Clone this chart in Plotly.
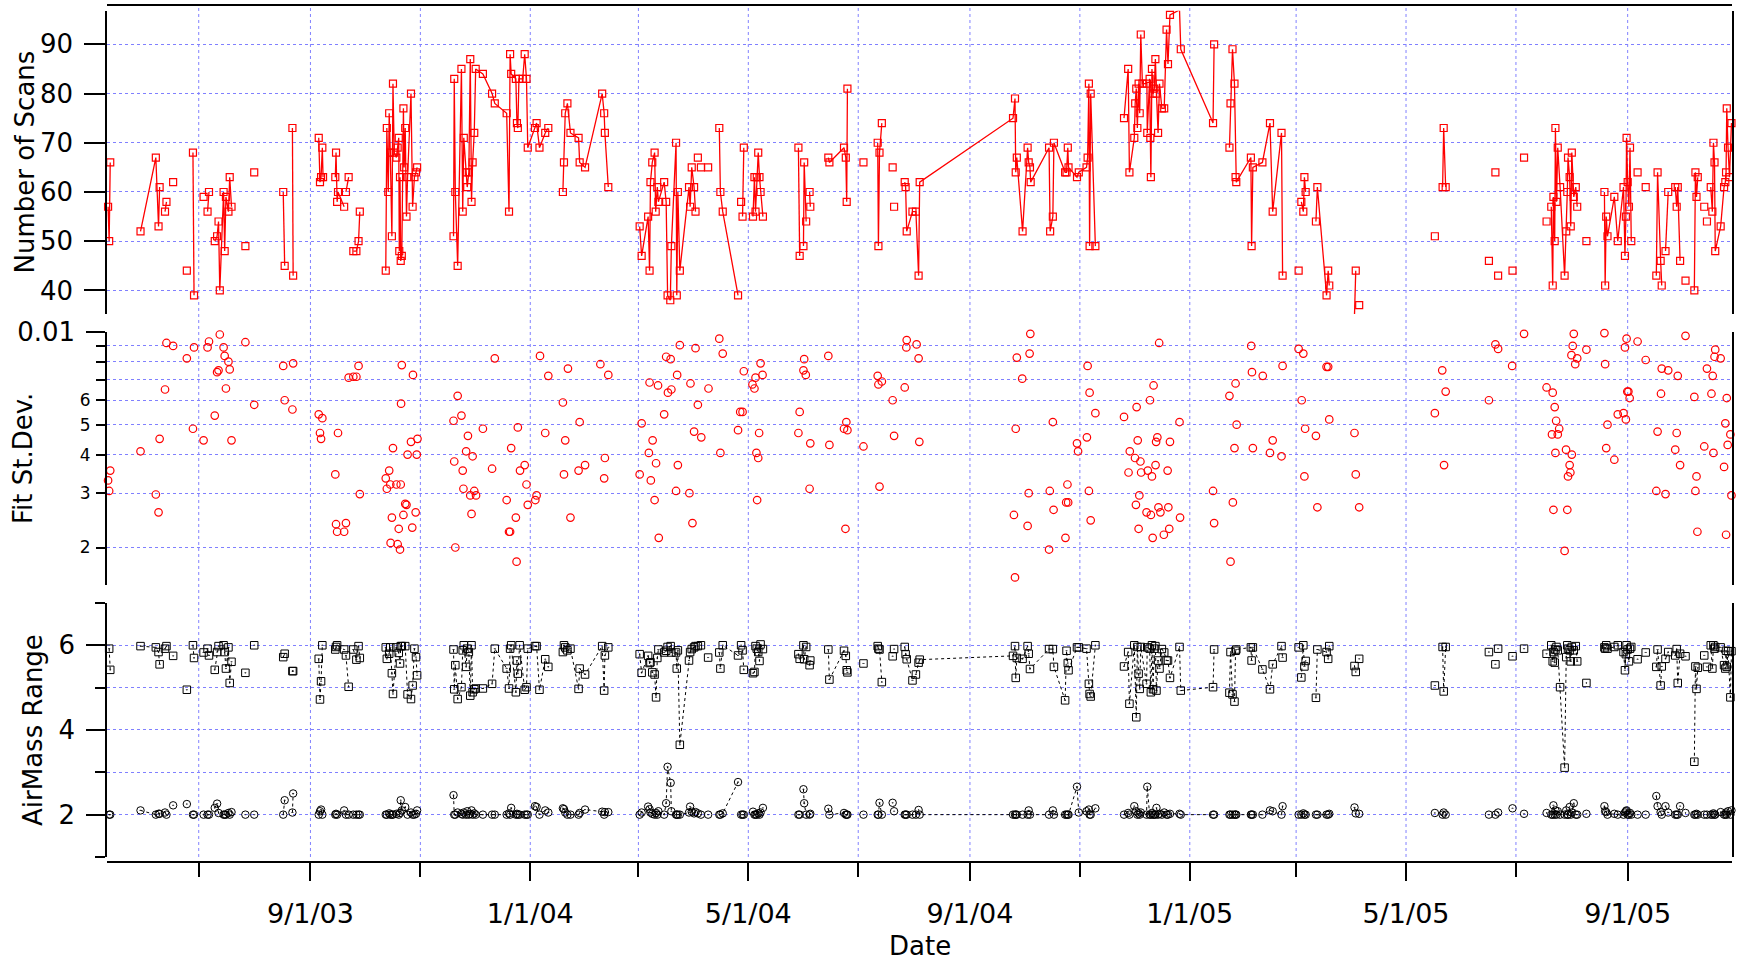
import pandas as pd
import plotly.graph_objects as go

BASE_DATE = pd.Timestamp("2003-09-01")
N = None  # gap marker (breaks connecting lines)

# ---------------- Number of Scans (days since 2003-09-01) ----------------
scan_day = [
    -112.3, -111.7, -111.1, N,
    -94.3, -85.8, -84.3, -83.7, N,
    -80.7, -79.9, N,
    -76.2, N,
    -68.6, N,
    -65.2, -64.6, N,
    -59.3, N,
    -57.1, -56.3, N,
    -53.1, -51.8, -51.0, -50.3, -48.2, -47.6, -46.9, -45.5, -44.8, -43.8, N,
    -36.1, N,
    -31.2, N,
    -15.1, -14.3, N,
    -10.0, -9.6, N,
    4.6, 5.3, 5.9, 6.6, 7.0, N,
    13.8, 14.2, 14.8, 15.3, 18.7, N,
    19.7, 21.2, N,
    23.8, 25.5, 26.7, 27.4, N,
    41.8, 42.4, 43.2, 43.7, 44.3, 45.2, 45.8, 46.5, 47.7, 48.4, 49.0, 49.3, 49.7, 50.1, 50.7, 51.6, 52.0, 52.6, 53.3, 53.9, 55.8, 56.7, 57.7, 58.6, 59.2, N,
    79.4, 79.8, 80.4, 81.7, 83.8, 84.5, 85.1, 86.4, 87.0, 87.9, 88.7, 89.4, 90.0, 90.9, 91.7, 95.7, 100.8, 102.3, 108.9, 110.2, 110.8, 111.4, 114.0, 114.6, 115.1, 115.7, 117.8, 118.9, 119.9, 120.6, 124.6, 125.5, 127.1, 130.3, 132.0, N,
    140.1, 140.7, 141.4, 142.6, 144.3, 148.8, 149.4, 152.4, 161.9, 163.0, 163.4, 165.3, N,
    182.7, 183.8, 187.4, 188.2, 188.7, 189.7, 191.0, 191.6, 192.5, 193.1, 196.3, 197.4, 198.2, 199.7, 200.3, 202.9, 203.3, 203.9, 205.0, 210.1, 210.7, 211.6, 212.9, 213.7, N,
    215.0, N, 216.7, N, 220.7, N,
    226.9, 227.5, 228.8, 237.3, N,
    239.0, N,
    239.8, 240.5, N,
    245.6, 246.4, 247.0, 247.7, 248.5, 249.2, 249.8, 251.1, N,
    270.8, 271.5, N,
    273.6, 274.0, 275.1, N,
    277.0, 277.4, N,
    287.4, 288.0, 296.1, 297.1, 297.6, 298.0, N,
    306.9, N,
    314.8, 315.2, 315.8, 317.1, N,
    323.1, N, 323.9, N,
    329.8, 330.3, 330.9, 334.1, 336.0, 337.5, 338.1, 389.9, 391.0, 391.4, 392.0, 395.2, 398.0, 398.6, 399.3, 399.7, 409.9, 410.5, 412.0, 412.6, 418.8, 419.6, 420.3, 420.7, 425.4, 426.4, 430.7, 431.3, 432.0, 432.4, 433.0, 435.6, N,
    451.5, 453.8, 454.5, 457.2, 457.7, 458.3, 458.9, 459.6, 460.2, 460.8, 461.7, 464.2, 464.4, 465.7, 466.1, 466.4, 467.0, 467.6, 468.3, 468.9, 469.5, 470.4, 471.2, 472.5, 473.8, 475.1, 475.9, 477.0, 482.3, 483.0, 500.9, 501.5, N,
    510.0, 510.6, 511.7, 512.8, 513.4, 513.8, 521.9, 522.3, 523.0, 528.3, 532.5, 534.0, 538.9, 539.5, N,
    548.4, N,
    549.9, 551.0, 551.6, 552.3, N,
    558.0, 558.8, 563.9, 564.8, 565.4, N,
    579.4, 580.1, N,
    582.0, N,
    624.0, N,
    628.3, 628.9, 630.0, N,
    654.0, N, 657.6, N, 659.1, N, 667.1, N, 673.5, N, 686.0, N,
    688.6, 689.4, 689.8, 690.5, 690.9, 691.5, 692.2, 693.5, 696.0, 696.9, 697.5, 697.9, 698.8, 699.4, 700.0, 701.1, 702.2, 703.0, N,
    708.1, N,
    718.1, 718.5, 719.1, 719.8, 723.6, 725.5, 728.7, 729.5, 730.0, 730.4, 731.0, 731.7, 732.3, 733.0, N,
    736.5, N, 741.0, N,
    746.9, 747.6, 749.3, 749.9, N,
    752.0, 753.5, N,
    757.4, 758.2, 758.8, 760.1, N,
    763.1, N,
    768.0, 768.6, 769.2, 769.9, N,
    773.5, N, 775.0, N,
    777.1, 778.0, 778.6, 779.2, 779.6, 782.6, 784.5, 785.2, 785.6, 786.0, 786.7, 787.5, 788.6,
]
scan_count = [
    57, 50, 66, N,
    52, 67, 53, 61, N,
    56, 58, N,
    62, N,
    44, N,
    68, 39, N,
    59, N,
    56, 60, N,
    50, 51, 54, 40, 60, 48, 59, 56, 63, 57, N,
    49, N,
    64, N,
    60, 45, N,
    73, 43, N,
    71, 62, 63, 69, 63, N,
    63, 68, 58, 60, 57, N,
    60, 63, N,
    48, 48, 50, 56, N,
    44, 73, 60, 76, 68, 51, 82, 68, 67, 69, 71, 48, 63, 46, 47, 77, 65, 73, 55, 63, 80, 57, 63, 64, 65, N,
    51, 83, 60, 45, 85, 56, 71, 64, 61, 64, 87, 58, 66, 72, 85, 84, 80, 78, 76, 56, 88, 84, 83, 74, 73, 83, 83, 88, 83, 69, 73, 74, 69, 72, 73, N,
    60, 66, 76, 78, 72, 71, 66, 65, 80, 76, 72, 61, N,
    53, 47, 55, 44, 62, 66, 68, 56, 61, 58, 62, 58, 39, 38, 49, 70, 39, 60, 44, 61, 57, 65, 61, 56, N,
    67, N, 65, N, 65, N,
    73, 60, 56, 39, N,
    58, N,
    55, 69, N,
    55, 63, 56, 63, 68, 63, 60, 55, N,
    69, 47, N,
    49, 66, 54, N,
    60, 57, N,
    67, 66, 69, 67, 58, 81, N,
    66, N,
    70, 49, 68, 74, N,
    65, N, 57, N,
    62, 61, 52, 56, 56, 43, 62, 75, 79, 64, 67, 52, 69, 66, 65, 62, 69, 52, 55, 70, 64, 64, 69, 65, 63, 64, 65, 67, 82, 49, 80, 49, N,
    75, 85, 64, 71, 78, 81, 73, 82, 76, 92, 82, 82, 72, 83, 71, 63, 85, 80, 81, 87, 80, 72, 82, 77, 77, 93, 86, 96, 97, 89, 74, 90, N,
    69, 78, 89, 82, 63, 62, 67, 49, 65, 66, 74, 56, 72, 43, N,
    44, N,
    58, 56, 63, 60, N,
    54, 61, 39, 44, 41, N,
    35, 44, N,
    37, N,
    51, N,
    61, 73, 61, N,
    46, N, 64, N, 43, N, 44, N, 67, N, 54, N,
    57, 41, 59, 50, 73, 58, 69, 61, 43, 52, 60, 67, 63, 53, 68, 59, 61, 57, N,
    50, N,
    60, 41, 55, 51, 59, 50, 61, 47, 55, 71, 62, 57, 69, 50, N,
    64, N, 61, N,
    43, 64, 46, 41, N,
    48, 60, N,
    61, 57, 61, 46, N,
    42, N,
    40, 64, 59, 63, N,
    57, N, 54, N,
    61, 56, 70, 66, 48, 53, 61, 62, 64, 77, 69, 63, 74,
]

# ---------------- Fit St.Dev. (units of 1e-3) ----------------
fit_day = [
    -112.3, -111.7, -111.1, -94.3, -85.8, -84.3, -83.7, -80.7, -79.9, -76.2, -68.6, -65.2, -64.6, -59.3, -57.1, -56.3,
    -53.1, -51.8, -51.0, -50.3, -48.2, -47.6, -46.9, -45.5, -44.8, -43.8, -36.1, -31.2, -15.1, -14.3, -10.0, -9.6,
    4.6, 5.3, 5.9, 6.6, 13.8, 14.2, 14.8, 15.3, 18.7, 19.7, 21.2, 23.8, 25.5, 26.7, 27.4,
    41.8, 42.4, 43.7, 44.3, 44.5, 45.2, 45.8, 47.7, 48.4, 49.0, 49.7, 50.1, 50.3, 50.7, 51.6, 52.6, 53.3, 53.9, 55.8, 56.5, 56.9, 58.4, 59.0, 59.4,
    79.4, 79.8, 80.4, 81.7, 83.8, 84.5, 84.9, 86.4, 87.4, 88.7, 89.4, 90.0, 90.9, 91.9, 95.7, 100.8, 102.3, 108.9, 110.2, 110.8, 111.4,
    114.0, 114.4, 115.1, 116.3, 118.9, 119.9, 120.6, 124.8, 125.5, 127.4, 130.3, 132.0,
    140.1, 140.7, 141.4, 142.9, 144.3, 148.8, 149.4, 152.4, 160.9, 163.0, 163.4, 165.3,
    182.7, 183.8, 187.8, 188.2, 188.9, 189.9, 191.0, 191.8, 192.9, 193.3, 196.3, 197.4, 198.4, 199.9, 200.3, 202.9, 203.5, 203.9, 205.0,
    210.3, 210.9, 212.0, 212.9, 213.7, 215.0, 216.9, 220.9, 226.9, 227.5, 228.8, 237.3, 238.5, 239.8, 240.5,
    245.3, 246.4, 247.0, 247.5, 247.9, 248.5, 249.0, 249.8, 250.9, 270.8, 271.5, 273.6, 274.0, 274.9, 277.0, 277.4,
    287.4, 288.0, 296.1, 296.9, 297.4, 298.0, 306.9, 314.8, 315.2, 315.8, 317.1, 323.1, 323.9, 329.8, 330.7, 330.9, 336.4, 337.5, 337.9,
    390.4, 391.0, 391.4, 392.0, 395.0, 398.0, 398.6, 399.1, 399.5, 409.9, 410.3, 412.0, 412.4, 419.0, 419.4, 420.1, 420.5,
    425.4, 426.0, 430.9, 431.3, 432.0, 432.4, 433.0, 435.6,
    451.5, 454.0, 454.7, 457.6, 458.1, 458.5, 459.1, 459.6, 460.0, 460.6, 461.0, 464.0, 464.7, 465.9, 466.4, 467.0, 467.4, 467.9,
    469.0, 469.3, 470.0, 470.6, 471.0, 471.7, 473.6, 475.7, 476.1, 476.6, 477.0, 482.3, 482.6,
    500.9, 501.5, 510.0, 510.6, 511.9, 512.8, 513.4, 514.0, 522.1, 522.5, 523.0, 528.5, 532.5, 534.0, 538.9, 539.5,
    548.4, 550.1, 551.0, 551.6, 552.0, 558.0, 558.8, 563.9, 564.8, 565.4, 579.4, 580.1, 582.0,
    624.0, 628.1, 629.1, 630.0, 654.0, 657.6, 659.1, 666.9, 673.5,
    686.0, 689.0, 689.4, 689.8, 690.5, 690.9, 691.3, 692.2, 693.0, 696.0, 696.8, 697.5, 697.9, 698.8, 699.2, 699.8, 700.0, 700.5, 701.1, 701.9, 703.0, 708.1,
    718.1, 718.5, 719.1, 719.8, 723.6, 725.5, 728.7, 729.5, 730.0, 730.4, 730.8, 731.4, 732.1, 733.0, 736.5, 741.0,
    746.9, 747.6, 749.5, 749.9, 752.0, 753.5, 757.4, 758.2, 758.8, 760.1, 763.1, 768.0, 768.6, 769.2, 769.7, 773.5, 775.0,
    777.5, 778.2, 778.6, 779.2, 779.6, 782.6, 784.5, 785.2, 785.6, 786.0, 786.5, 788.0, 788.6,
]
fit_std_e3 = [
    3.3, 3.05, 3.55, 4.1, 2.97, 2.6, 4.5, 6.5, 9.2, 9.0, 8.2, 4.85, 8.9, 4.45, 8.9, 9.3,
    5.35, 7.4, 7.5, 9.8, 8.9, 8.35, 6.55, 8.0, 7.55, 4.45, 9.25, 5.8, 7.75, 6.0, 5.6, 7.9,
    5.4, 4.7, 4.5, 5.25, 3.45, 2.38, 2.25, 4.7, 2.25, 2.4, 7.1, 7.15, 7.15, 7.75, 2.98,
    3.35, 3.1, 3.55, 3.2, 2.07, 2.5, 4.2, 3.2, 2.05, 2.3, 1.97, 3.2, 5.85, 7.8, 2.55, 2.77, 2.75, 4.0, 4.4, 2.32, 7.25, 2.6, 4.0, 4.5,
    5.15, 3.8, 2.0, 6.2, 5.35, 3.55, 3.1, 4.1, 4.6, 2.95, 2.57, 3.95, 3.05, 2.95, 4.85, 3.6, 8.2, 2.85, 2.25, 2.25, 4.2,
    2.5, 1.8, 4.9, 3.55, 3.7, 3.2, 2.75, 2.85, 2.95, 8.35, 4.7, 7.2,
    5.9, 3.45, 4.45, 7.6, 2.5, 3.55, 5.1, 3.7, 7.85, 3.35, 3.9, 7.25,
    3.45, 5.05, 4.05, 6.85, 3.3, 4.45, 2.85, 3.75, 6.7, 2.15, 5.4, 8.3, 6.35, 8.15, 6.5, 3.05, 7.25, 3.7, 9.05,
    3.0, 6.8, 2.4, 4.75, 8.85, 5.8, 4.55, 6.55, 9.5, 4.05, 8.5, 4.8, 5.5, 5.5, 7.45,
    6.75, 6.55, 7.1, 4.05, 2.85, 3.9, 4.7, 7.9, 7.25, 4.7, 5.5, 7.5, 8.15, 7.25, 3.1, 4.35,
    8.35, 4.3, 4.85, 2.3, 5.1, 4.8, 4.25, 7.2, 6.75, 3.15, 6.9, 6.0, 4.6, 6.6, 8.9, 9.4, 9.1, 8.2, 4.4,
    2.55, 1.6, 4.85, 8.25, 7.05, 2.35, 3.0, 8.5, 9.85, 1.97, 3.05, 5.1, 2.65, 2.15, 2.8, 3.2, 2.8,
    4.35, 4.1, 4.55, 7.75, 3.05, 6.35, 2.45, 5.45,
    5.3, 3.5, 4.1, 3.9, 2.75, 5.7, 4.45, 2.3, 2.95, 3.8, 3.5, 2.6, 3.55, 6.0, 2.55, 3.4, 2.15, 6.7,
    3.7, 4.4, 4.55, 2.7, 9.2, 2.6, 2.2, 3.55, 2.7, 2.3, 4.4, 5.1, 2.5,
    3.05, 2.4, 6.2, 1.8, 2.8, 4.2, 6.8, 5.0, 9.0, 7.4, 4.2, 7.2, 4.05, 4.45, 3.95, 7.75,
    8.8, 6.0, 8.5, 3.4, 4.85, 4.6, 2.7, 7.7, 7.7, 5.2, 4.7, 3.45, 2.7,
    5.45, 7.5, 3.7, 6.4, 6.0, 9.1, 8.8, 7.75, 9.85,
    6.6, 4.65, 6.35, 2.65, 5.7, 4.05, 5.15, 4.65, 4.85, 1.95, 4.15, 2.65, 3.4, 3.7, 3.5, 8.4, 4.0, 9.0, 9.85, 7.85, 8.2, 8.75,
    9.9, 7.85, 4.2, 5.0, 3.85, 5.4, 5.45, 8.9, 5.2, 9.5, 6.4, 6.4, 6.1, 10.0, 9.3, 8.1,
    3.05, 4.75, 6.3, 7.6, 2.98, 7.5, 4.15, 4.7, 7.2, 3.7, 9.7, 6.15, 3.05, 3.4, 2.25, 4.25, 7.6,
    6.3, 7.2, 4.05, 8.3, 8.75, 8.2, 3.65, 5.05, 2.2, 6.1, 4.3, 4.65, 2.95,
]

# ---------------- AirMass Range (max = squares, min = circles) ----------------
am_day = [
    -111.7, -111.1, N,
    -94.3, -85.8, -84.3, -83.7, N,
    -80.7, -79.9, N,
    -76.2, N,
    -68.6, N,
    -65.2, -64.6, N,
    -59.3, N,
    -57.1, -56.3, N,
    -53.1, -51.8, -51.0, -48.2, -47.6, -46.9, -45.5, -44.8, -43.8, N,
    -36.1, N,
    -31.2, N,
    -15.1, -14.3, N,
    -10.0, -9.6, N,
    4.6, 5.3, 5.9, 6.6, N,
    13.8, 14.2, 14.8, 18.7, N,
    19.7, 21.2, N,
    23.8, 25.5, 26.7, 27.4, N,
    41.8, 42.4, 43.7, 44.3, 45.2, 45.8, 47.7, 49.0, 49.7, 50.1, 50.7, 52.6, 53.9, 55.8, 56.7, 57.7, 58.6, 59.2, N,
    79.4, 79.8, 80.4, 81.7, 83.8, 84.5, 85.1, 86.4, 87.0, 87.9, 88.7, 89.4, 90.0, 90.9, 91.7, 95.7, 100.8, 102.3, 108.9, 110.2, 110.8, 111.4, 114.0, 114.6, 115.1, 116.1, 118.9, 119.9, 120.6, 124.6, 125.5, 127.1, 130.3, 132.0, N,
    140.1, 140.7, 141.4, 142.6, 144.3, 148.8, 149.4, 152.4, 161.9, 163.0, 163.4, 165.3, N,
    182.7, 183.8, 187.4, 188.2, 188.7, 189.7, 191.0, 191.8, 192.5, 193.1, 196.3, 197.4, 198.2, 199.9, 200.3, 202.9, 203.3, 203.9, 205.0, 210.1, 210.7, 211.6, 212.9, 213.7, N,
    215.0, N, 216.7, N, 220.7, N,
    226.9, 227.5, 228.8, 237.3, N,
    239.0, N,
    239.8, 240.5, N,
    245.6, 246.4, 247.0, 247.7, 248.5, 249.2, 249.8, 251.1, N,
    270.8, 271.5, N,
    273.6, 274.0, 275.1, N,
    277.0, 277.4, N,
    287.4, 288.0, 296.1, 297.1, 297.6, 298.0, N,
    306.9, N,
    314.8, 315.2, 315.8, 317.1, N,
    323.1, N, 323.9, N,
    329.8, 330.3, 330.9, 334.1, 336.0, 337.5, 338.1, 389.9, 391.0, 391.4, 392.0, 395.2, 398.0, 398.6, 399.3, 409.9, 412.0, 412.6, 418.8, 419.6, 420.3, 420.7, 425.4, 426.4, 430.7, 432.0, 432.4, 433.0, 435.6, N,
    451.5, 453.8, 454.5, 457.2, 458.3, 458.9, 459.6, 460.2, 460.8, 464.0, 464.4, 465.7, 466.4, 467.0, 467.6, 468.3, 468.9, 469.5, 470.4, 471.2, 472.5, 473.8, 475.1, 475.9, 477.0, 482.3, 483.0, 500.9, 501.5, N,
    510.0, 510.6, 511.7, 512.8, 513.4, 513.8, 521.9, 522.3, 523.0, 528.3, 532.5, 534.0, 538.9, 539.5, N,
    548.4, N,
    549.9, 551.0, 551.6, 552.3, N,
    558.0, 558.8, 563.9, 564.8, 565.4, N,
    579.4, 580.1, N,
    582.0, N,
    624.0, N,
    628.3, 628.9, 630.0, N,
    654.0, N, 657.6, N, 659.1, N, 667.1, N, 673.5, N, 686.0, N,
    688.6, 689.4, 689.8, 690.5, 690.9, 691.5, 692.2, 693.5, 696.0, 696.9, 697.5, 697.9, 698.8, 699.4, 700.0, 701.1, 702.2, 703.0, N,
    708.1, N,
    718.1, 718.5, 719.1, 719.8, 723.6, 725.5, 728.7, 729.5, 730.0, 730.4, 731.0, 731.7, 732.3, 733.0, N,
    736.5, N, 741.0, N,
    746.9, 747.6, 749.3, 749.9, N,
    752.0, 753.5, N,
    757.4, 758.2, 758.8, 760.1, N,
    763.1, N,
    768.0, 768.6, 769.2, 769.9, N,
    773.5, N, 775.0, N,
    777.1, 778.0, 778.6, 779.2, 779.6, 782.6, 784.5, 785.2, 785.6, 786.0, 786.7, 788.0, 788.6,
]
am_max = [
    5.92, 5.42, N,
    5.98, 5.95, 5.84, 5.55, N,
    5.92, 5.98, N,
    5.75, N,
    4.95, N,
    6.0, 5.7, N,
    5.83, N,
    5.92, 5.76, N,
    5.42, 5.84, 5.98, 6.0, 5.84, 5.45, 5.95, 5.11, 5.61, N,
    5.35, N,
    6.0, N,
    5.72, 5.8, N,
    5.39, 5.39, N,
    5.68, 4.72, 5.15, 6.0, N,
    5.9, 5.96, 6.0, 5.9, N,
    5.76, 5.02, N,
    5.9, 5.66, 5.98, 5.7, N,
    5.95, 5.68, 5.8, 5.95, 5.34, 4.85, 5.95, 5.82, 5.57, 5.98, 5.98, 5.98, 4.84, 4.73, 5.05, 5.92, 5.72, 5.29, N,
    5.9, 4.96, 5.53, 4.73, 5.01, 5.88, 6.0, 5.49, 5.92, 5.84, 4.81, 6.0, 4.89, 4.96, 4.98, 4.98, 5.09, 5.92, 5.45, 4.98, 5.92, 6.0, 4.89, 5.64, 5.33, 6.0, 4.95, 5.01, 5.92, 5.98, 5.98, 4.95, 5.67, 5.49, N,
    5.84, 6.0, 5.95, 5.88, 5.92, 4.97, 5.45, 5.31, 5.98, 4.93, 5.76, 5.95, N,
    5.79, 5.35, 5.75, 5.58, 5.6, 5.36, 5.31, 4.77, 5.7, 5.9, 5.83, 5.87, 5.96, 5.98, 5.83, 5.83, 5.45, 5.88, 3.65, 5.64, 5.84, 5.91, 5.95, 5.98, N,
    5.98, N, 6.0, N, 5.71, N,
    5.83, 5.45, 6.0, 5.76, N,
    6.0, N,
    5.88, 5.42, N,
    5.34, 5.37, 5.98, 5.92, 5.84, 5.63, 6.02, 5.91, N,
    5.79, 5.68, N,
    6.0, 5.67, 5.96, N,
    5.53, 5.64, N,
    5.9, 5.19, 5.87, 5.75, 5.41, 5.36, N,
    5.57, N,
    5.98, 5.92, 5.9, 5.13, N,
    5.74, N, 5.91, N,
    5.96, 5.79, 5.67, 5.17, 5.31, 5.59, 5.66, 5.75, 5.98, 5.23, 5.7, 5.68, 5.98, 5.8, 5.44, 5.91, 5.91, 5.49, 4.7, 5.87, 5.58, 5.41, 5.95, 5.95, 5.92, 5.09, 4.85, 4.79, 6.0, N,
    5.5, 5.84, 4.62, 6.0, 4.3, 5.96, 5.33, 4.97, 5.96, 5.09, 5.95, 5.92, 4.89, 6.0, 4.96, 5.92, 5.98, 4.93, 5.64, 5.45, 5.91, 5.83, 5.64, 5.64, 5.23, 5.96, 4.93, 5.01, 5.9, N,
    4.88, 5.84, 4.84, 4.67, 5.87, 5.9, 5.95, 5.64, 5.95, 5.43, 4.96, 5.55, 5.98, 5.71, N,
    5.95, N,
    5.24, 6.0, 5.5, 5.63, N,
    4.76, 5.9, 5.84, 5.68, 5.98, N,
    5.51, 5.37, N,
    5.68, N,
    5.05, N,
    5.96, 4.91, 5.96, N,
    5.84, N, 5.55, N, 5.92, N, 5.74, N, 5.92, N, 5.8, N,
    6.0, 5.62, 5.84, 5.59, 5.9, 5.96, 5.88, 5.01, 3.11, 5.72, 6.0, 5.92, 5.88, 5.62, 5.96, 5.88, 5.98, 5.62, N,
    5.11, N,
    5.95, 5.92, 6.0, 5.92, 5.96, 6.0, 5.84, 5.41, 5.79, 6.0, 5.9, 5.62, 5.92, 5.96, N,
    5.67, N, 5.83, N,
    5.49, 5.9, 5.05, 5.5, N,
    5.68, 5.84, N,
    5.76, 5.91, 5.11, 5.8, N,
    5.74, N,
    3.25, 5.5, 4.97, 5.47, N,
    5.76, N, 5.49, N,
    6.0, 5.45, 6.0, 5.92, 5.96, 5.95, 5.53, 5.45, 5.87, 5.49, 5.86, 4.77, 5.86,
]
am_min = [
    2.0, 2.0, N,
    2.1, 2.0, 2.02, 2.02, N,
    2.05, 2.0, N,
    2.22, N,
    2.25, N,
    2.0, 2.0, N,
    2.0, N,
    2.0, 2.0, N,
    2.16, 2.26, 2.04, 2.0, 2.0, 2.0, 2.04, 2.0, 2.06, N,
    2.0, N,
    2.0, N,
    2.0, 2.34, N,
    2.05, 2.5, N,
    2.0, 2.08, 2.12, 2.0, N,
    2.0, 2.02, 2.0, 2.1, N,
    2.0, 2.0, N,
    2.0, 2.0, 2.0, 2.0, N,
    2.0, 2.0, 2.03, 2.0, 2.0, 2.0, 2.02, 2.0, 2.04, 2.34, 2.1, 2.18, 2.0, 2.05, 2.0, 2.0, 2.02, 2.1, N,
    2.46, 2.0, 2.0, 2.05, 2.02, 2.0, 2.05, 2.0, 2.08, 2.0, 2.02, 2.1, 2.0, 2.03, 2.0, 2.0, 2.0, 2.0, 2.0, 2.03, 2.0, 2.16, 2.0, 2.02, 2.0, 2.0, 2.0, 2.0, 2.0, 2.2, 2.18, 2.0, 2.1, 2.05, N,
    2.15, 2.13, 2.05, 2.0, 2.0, 2.0, 2.04, 2.12, 2.07, 2.0, 2.06, 2.06, N,
    2.0, 2.05, 2.19, 2.13, 2.05, 2.02, 2.0, 2.04, 2.0, 2.08, 2.0, 2.27, 3.13, 2.75, 2.08, 2.0, 2.0, 2.0, 2.0, 2.05, 2.19, 2.07, 2.03, 2.06, N,
    2.03, N, 2.0, N, 2.0, N,
    2.0, 2.0, 2.03, 2.77, N,
    2.0, N,
    2.0, 2.0, N,
    2.07, 2.0, 2.0, 2.0, 2.03, 2.0, 2.05, 2.16, N,
    2.0, 2.0, N,
    2.6, 2.27, 2.0, N,
    2.0, 2.02, N,
    2.14, 2.0, 2.04, 2.0, 2.0, 2.0, N,
    2.0, N,
    2.0, 2.0, 2.28, 2.0, N,
    2.28, N, 2.08, N,
    2.0, 2.0, 2.0, 2.0, 2.0, 2.11, 2.0, 2.0, 2.0, 2.0, 2.0, 2.0, 2.0, 2.1, 2.0, 2.0, 2.1, 2.0, 2.0, 2.0, 2.0, 2.0, 2.66, 2.05, 2.08, 2.12, 2.0, 2.0, 2.15, N,
    2.0, 2.04, 2.0, 2.2, 2.08, 2.0, 2.03, 2.0, 2.05, 2.0, 2.66, 2.0, 2.0, 2.04, 2.0, 2.0, 2.0, 2.16, 2.0, 2.02, 2.0, 2.05, 2.0, 2.0, 2.02, 2.02, 2.0, 2.0, 2.0, N,
    2.0, 2.0, 2.0, 2.0, 2.0, 2.0, 2.0, 2.0, 2.0, 2.0, 2.1, 2.08, 2.0, 2.2, N,
    2.0, N,
    2.0, 2.03, 2.0, 2.0, N,
    2.0, 2.0, 2.0, 2.0, 2.02, N,
    2.17, 2.03, N,
    2.02, N,
    2.04, N,
    2.0, 2.05, 2.0, N,
    2.0, N, 2.0, N, 2.05, N, 2.15, N, 2.02, N, 2.04, N,
    2.0, 2.0, 2.22, 2.0, 2.1, 2.0, 2.08, 2.0, 2.0, 2.1, 2.0, 2.0, 2.18, 2.0, 2.05, 2.27, 2.0, 2.0, N,
    2.02, N,
    2.2, 2.08, 2.06, 2.0, 2.02, 2.0, 2.0, 2.05, 2.08, 2.1, 2.0, 2.0, 2.04, 2.0, N,
    2.0, N, 2.0, N,
    2.44, 2.2, 2.06, 2.0, N,
    2.2, 2.05, N,
    2.0, 2.0, 2.0, 2.2, N,
    2.04, N,
    2.0, 2.0, 2.02, 2.0, N,
    2.0, N, 2.0, N,
    2.0, 2.0, 2.03, 2.0, 2.0, 2.06, 2.0, 2.0, 2.05, 2.0, 2.08, 2.0, 2.1,
]

assert len(scan_day) == len(scan_count)
assert len(fit_day) == len(fit_std_e3)
assert len(am_day) == len(am_max) == len(am_min)


def to_dates(days):
    return [None if d is None else BASE_DATE + pd.Timedelta(days=d) for d in days]


scan_x = to_dates(scan_day)
fit_x = to_dates(fit_day)
fit_y = [v * 1e-3 for v in fit_std_e3]
am_x = to_dates(am_day)

# ---------------- styling ----------------
FONT = "DejaVu Sans"
GRID = "#8080ff"
x_start = BASE_DATE + pd.Timedelta(days=-112.9)
x_end = BASE_DATE + pd.Timedelta(days=788.9)

# domains (paper fractions)
D_TOP = [0.6393, 0.9933]
D_MID = [0.3230, 0.6187]
D_BOT = [0.00584, 0.3023]

fig = go.Figure()

fig.add_trace(go.Scatter(
    x=scan_x, y=scan_count, mode="lines+markers", xaxis="x", yaxis="y",
    line=dict(color="#ff0000", width=1.3),
    marker=dict(symbol="square-open", size=7, color="#ff0000", line=dict(width=1.2)),
    cliponaxis=False, connectgaps=False, hoverinfo="x+y",
))
fig.add_trace(go.Scatter(
    x=fit_x, y=fit_y, mode="markers", xaxis="x", yaxis="y2",
    marker=dict(symbol="circle-open", size=7.5, color="#ff0000", line=dict(width=1.2)),
    cliponaxis=False,
))
fig.add_trace(go.Scatter(
    x=[None], y=[None], mode="markers", xaxis="x", yaxis="y4", showlegend=False,
    hoverinfo="skip",
))
fig.add_trace(go.Scatter(
    x=am_x, y=am_max, mode="lines+markers", xaxis="x", yaxis="y3",
    line=dict(color="black", width=1, dash="dot"),
    marker=dict(symbol="square-open-dot", size=7.5, color="black", line=dict(width=1)),
    cliponaxis=False, connectgaps=False,
))
fig.add_trace(go.Scatter(
    x=am_x, y=am_min, mode="lines+markers", xaxis="x", yaxis="y3",
    line=dict(color="black", width=1, dash="dot"),
    marker=dict(symbol="circle-open-dot", size=7.5, color="black", line=dict(width=1)),
    cliponaxis=False, connectgaps=False,
))

common_y = dict(
    anchor="x", ticks="outside", tickwidth=1.5, tickcolor="black",
    showline=True, linecolor="black", linewidth=1.5, mirror=True,
    showgrid=True, gridcolor=GRID, griddash="dot", gridwidth=1,
    zeroline=False, automargin=False,
    tickfont=dict(family=FONT, size=26, color="black"),
)

fig.update_layout(
    width=1742, height=964, autosize=False,
    margin=dict(l=106.5, r=10, t=5, b=102.3, autoexpand=False),
    paper_bgcolor="white", plot_bgcolor="rgba(0,0,0,0)",
    showlegend=False,
    font=dict(family=FONT, color="black"),
    xaxis=dict(
        type="date", range=[x_start, x_end], anchor="free", position=0,
        showline=True, linecolor="black", linewidth=1.5, automargin=False,
        ticks="outside", ticklen=18, tickwidth=1.5, tickcolor="black",
        tick0="2003-01-01", dtick="M4", tickformat="%-m/%-d/%y",
        tickfont=dict(family=FONT, size=27, color="black"), ticklabelstandoff=10,
        minor=dict(dtick="M2", tick0="2003-01-01", ticks="outside", ticklen=14,
                   tickwidth=1.5, tickcolor="black", showgrid=False),
        showgrid=False, zeroline=False,
    ),
    yaxis=dict(domain=D_TOP, range=[35.18, 96.83], tick0=0, dtick=10, ticklen=21,
               ticklabelstandoff=6, **common_y),
    yaxis2=dict(domain=D_MID, type="log", range=[-2.821, -2.0],
                tickvals=[0.01], ticktext=["0.01"], ticklen=19,
                ticklabelstandoff=6, **common_y),
    yaxis4=dict(domain=D_MID, type="log", range=[-2.821, -2.0], overlaying="y2", side="left",
                anchor="x", tickvals=[0.002, 0.003, 0.004, 0.005, 0.006, 0.007, 0.008, 0.009],
                ticktext=["2", "3", "4", "5", "6", "", "", ""],
                ticks="outside", ticklen=10, tickwidth=1.5, tickcolor="black",
                showline=False, showgrid=True, gridcolor=GRID, griddash="dot", gridwidth=1,
                zeroline=False, automargin=False,
                tickfont=dict(family=FONT, size=17, color="black"),
                ticklabelstandoff=2),
    yaxis3=dict(domain=D_BOT, range=[1, 7], tick0=0, dtick=2, ticklen=19, ticklabelstandoff=6,
                minor=dict(tick0=1, dtick=2, ticks="outside", ticklen=10, tickwidth=1.5,
                           tickcolor="black", showgrid=True, gridcolor=GRID,
                           griddash="dot", gridwidth=1),
                **common_y),
)

# vertical (date) grid spanning all three panels
shapes = []
for g in pd.date_range("2003-07-01", "2005-09-01", freq="2MS"):
    shapes.append(dict(type="line", xref="x", yref="paper", x0=g, x1=g, y0=D_BOT[0], y1=0.998,
                       line=dict(color=GRID, width=1, dash="dot"), layer="below"))
# top frame line
shapes.append(dict(type="line", xref="paper", yref="paper", x0=0, x1=1, y0=1, y1=1,
                   line=dict(color="black", width=2)))
fig.update_layout(shapes=shapes)

title_font = dict(family=FONT, size=26, color="black")
fig.update_layout(annotations=[
    dict(text="Number of Scans", xref="paper", yref="paper", x=0, y=sum(D_TOP) / 2,
         xshift=-82, textangle=-90, showarrow=False, font=title_font,
         xanchor="center", yanchor="middle"),
    dict(text="Fit St.Dev.", xref="paper", yref="paper", x=0, y=sum(D_MID) / 2,
         xshift=-83.5, textangle=-90, showarrow=False, font=title_font,
         xanchor="center", yanchor="middle"),
    dict(text="AirMass Range", xref="paper", yref="paper", x=0, y=sum(D_BOT) / 2,
         xshift=-74, textangle=-90, showarrow=False, font=title_font,
         xanchor="center", yanchor="middle"),
    dict(text="Date", xref="paper", yref="paper", x=0.5, y=0, yshift=-84,
         showarrow=False, font=title_font, xanchor="center", yanchor="middle"),
])

fig.write_html("out.html", config={"displayModeBar": False},
               post_script="document.body.style.margin='0';")
